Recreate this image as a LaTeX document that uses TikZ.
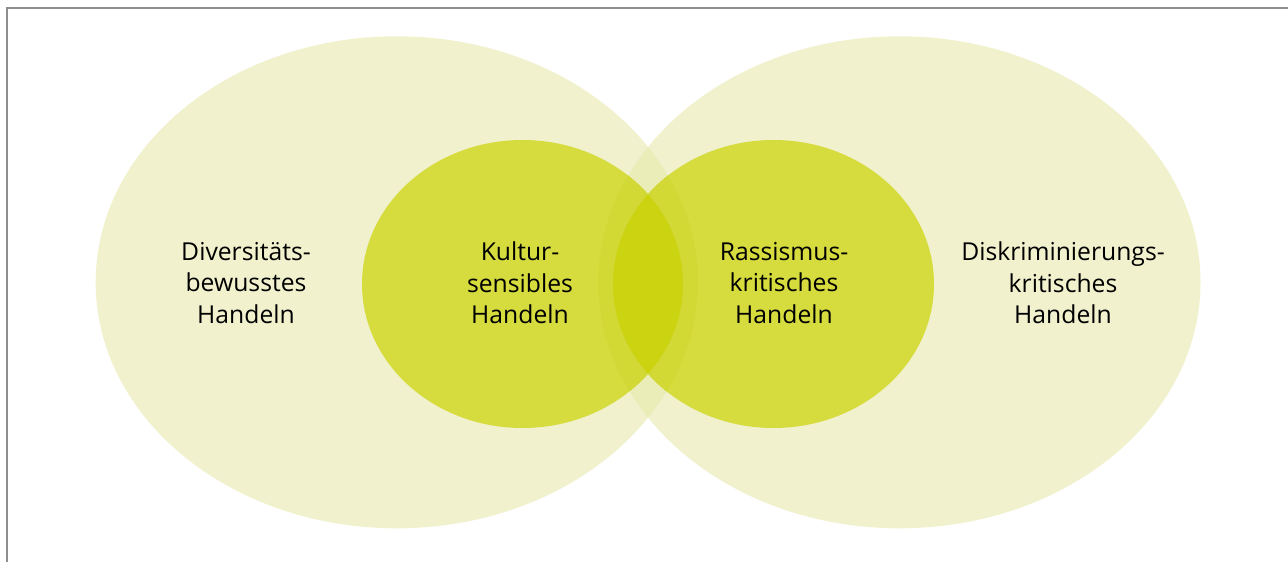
\documentclass[tikz,border=0pt]{standalone}
\usepackage{fontspec}
\setmainfont{Open Sans}
\definecolor{cLarge}{HTML}{F1F2CD}
\definecolor{cLargeTwo}{HTML}{EAEDB7}
\definecolor{cInner}{HTML}{D6DB3E}
\definecolor{cInnerTwo}{HTML}{D2D834}
\definecolor{cLens}{HTML}{CCD412}
\definecolor{cFrame}{HTML}{8E8E8E}
\tikzset{
  label text/.style={align=center, font=\fontsize{24.7}{31.7}\selectfont, text=black, inner sep=0pt},
}
\begin{document}
\begin{tikzpicture}[x=1pt,y=-1pt]
\useasboundingbox (0,0) rectangle (1288,562);
\fill[white] (0,0) rectangle (1288,562);
% ellipses
\def\LL{(396.7,282.3) ellipse [x radius=301pt, y radius=246pt]}
\def\LR{(899.5,282.3) ellipse [x radius=301pt, y radius=246pt]}
\def\IL{(522.5,284) ellipse [x radius=160.5pt, y radius=144pt]}
\def\IR{(773.5,284) ellipse [x radius=160.5pt, y radius=144pt]}
\fill[cLarge] \LL;
\fill[cLarge] \LR;
\begin{scope}
  \clip \LL;
  \fill[cLargeTwo] \LR;
\end{scope}
\fill[cInner] \IL;
\fill[cInner] \IR;
\begin{scope}
  \clip \IL;
  \fill[cInnerTwo] \LR;
\end{scope}
\begin{scope}
  \clip \IR;
  \fill[cInnerTwo] \LL;
\end{scope}
\begin{scope}
  \clip \IL;
  \fill[cLens] \IR;
\end{scope}
% frame (top and left only)
\draw[cFrame, line width=1.5pt] (7,562) -- (7,8) -- (1288,8);
% labels
\node[label text] (div) at (246,283) {Diversitäts-\\bewusstes\\Handeln};
\node[label text] (kul) at (520,283) {Kultur-\\sensibles\\Handeln};
\node[label text] (ras) at (784,283) {Rassismus-\\kritisches\\Handeln};
\node[label text] (dis) at (1063,283) {Diskriminierungs-\\kritisches\\Handeln};
\end{tikzpicture}
\end{document}
